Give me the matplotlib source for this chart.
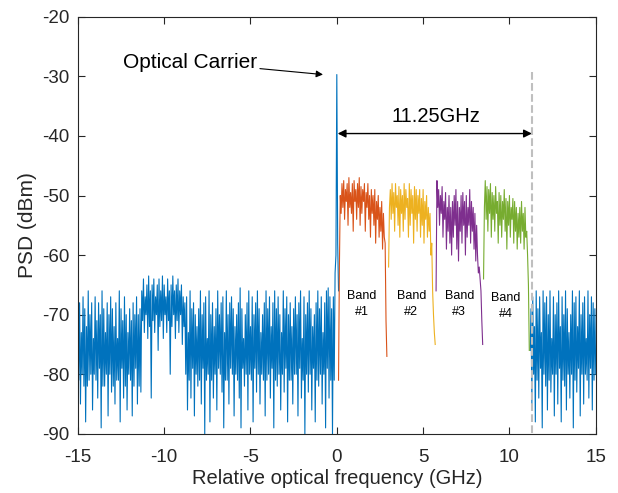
import numpy as np
import matplotlib
matplotlib.use("Agg")
import matplotlib.pyplot as plt

plt.rcParams['font.family'] = ['Liberation Sans', 'DejaVu Sans']
plt.rcParams['axes.unicode_minus'] = False

STEP = 0.05  # GHz between samples

# noise floor, -15.0 .. -11.35 GHz
noise_a_start = -15.0
noise_a = [
    -70, -81, -68, -85, -73, -80, -67, -82, -69, -88,
    -72, -82, -66, -81, -70, -80, -68, -86, -74, -80,
    -67, -81, -71, -84, -68, -79, -70, -89, -66, -82,
    -69, -82, -73, -80, -68, -87, -70, -80, -67, -83,
    -69, -82, -72, -85, -68, -81, -74, -81, -66, -88,
    -69, -79, -71, -84, -67, -82, -70, -86, -73, -80,
    -69, -81, -71, -87, -68, -82, -70, -79, -67, -85,
    -70, -82, -69, -83,
]
# raised part, -11.3 .. -8.85 GHz
noise_b_start = -11.3
noise_b = [
    -66, -71, -64, -73, -67, -70, -65, -74, -63.5, -72,
    -66, -84, -65, -71, -64, -73, -67, -70, -65, -76,
    -64, -72, -66, -71, -63.5, -74, -65, -70, -67, -73,
    -64, -71, -66, -80, -65, -72, -63.5, -70, -66, -74,
    -65, -71, -64, -73, -66, -70, -65, -75, -67, -72,
]
# -8.8 .. -0.15 GHz
noise_c_start = -8.8
noise_c = [
    -68, -80, -67, -86, -73, -81, -66, -84, -69, -79,
    -68, -87, -70, -80, -72, -82, -69, -81, -66, -85,
    -70, -79, -68, -90, -67, -81, -74, -80, -66, -88,
    -70, -81, -68, -84, -72, -80, -69, -86, -66, -79,
    -70, -80, -68, -83, -67, -89, -73, -81, -66, -81,
    -70, -85, -68, -79, -67, -80, -69, -87, -72, -80,
    -70, -81, -68, -84, -65.5, -89, -69, -79, -74, -82,
    -70, -80, -68, -86, -66, -80, -72, -81, -67, -88,
    -70, -79, -68, -83, -66, -80, -69, -85, -73, -80,
    -70, -81, -68, -87, -66, -81, -69, -80, -67, -84,
    -72, -79, -68, -89, -66, -81, -69, -82, -67, -80,
    -70, -86, -73, -80, -66, -83, -69, -79, -67, -88,
    -70, -81, -68, -81, -72, -85, -69, -80, -67, -80,
    -70, -87, -68, -79, -66, -84, -74, -81, -67, -90,
    -70, -80, -68, -83, -66, -80, -69, -86, -72, -79,
    -70, -88, -68, -81, -66, -82, -69, -80, -67, -85,
    -73, -80, -68, -89, -66, -79, -65.5, -84, -67, -81,
    -69, -90, -67, -81,
]
# optical carrier, -0.1 .. 0.1 GHz
carrier_start = -0.1
carrier = [-63, -60, -29.7, -58, -66]

# noise floor after the bands, 11.2 .. 15.0 GHz
noise_r_start = 11.2
noise_r = [
    -76, -69, -85, -67, -80, -72, -88, -66, -81, -69,
    -84, -67, -79, -73, -89, -66, -80, -68, -82, -67,
    -86, -70, -81, -66, -83, -74, -80, -67, -87, -70,
    -80, -68, -85, -66, -79, -72, -88, -67, -81, -70,
    -82, -66, -86, -69, -80, -73, -84, -70, -80, -66,
    -89, -68, -81, -67, -83, -72, -79, -66, -87, -70,
    -80, -68, -85, -67, -80, -74, -81, -66, -84, -70,
    -79, -67, -86, -68, -81, -69, -80,
]

band1_start = 0.1
band1 = [
    -81, -62, -50, -53, -48, -52, -47.5, -54, -49, -51,
    -48, -55, -47, -52, -49.5, -53, -48, -56, -47.5, -51,
    -49, -54, -48, -52, -47, -55, -48.5, -53, -49, -51,
    -48, -56, -49.5, -52, -48, -54, -50, -57, -49, -53,
    -50, -55, -49, -58, -51, -54, -50, -57, -52, -56,
    -51, -59, -53, -57, -58, -71, -77,
]
band2_start = 3.0
band2 = [
    -62, -52, -49, -54, -48, -53, -49.5, -56, -48, -52,
    -50, -55, -48.5, -57, -49, -53, -50, -56, -48, -54,
    -49, -52, -50.5, -57, -48, -55, -49, -53, -50, -58,
    -48.5, -54, -49, -56, -50, -53, -49, -57, -50.5, -55,
    -49, -58, -51, -54, -50, -57, -52, -56, -53, -60,
    -58, -66, -70, -73, -75,
]
band3_start = 5.75
band3 = [
    -66, -47.5, -52, -49, -55, -50, -53, -48.5, -57, -51,
    -54, -49.5, -59, -52, -56, -50, -58, -52, -60, -51,
    -57, -50, -55, -49, -59, -51, -61, -52, -56, -50,
    -58, -49.5, -55, -51, -60, -50, -57, -52, -55, -49,
    -58, -51, -56, -52, -59, -53, -61, -55, -60, -63,
    -62, -64, -66, -71, -75,
]
band4_start = 8.5
band4 = [
    -64, -52, -47.5, -54, -48.5, -56, -49, -53, -48, -57,
    -49.5, -54, -50, -56, -48.5, -53, -51, -58, -49.5, -55,
    -50, -57, -51, -54, -49, -56, -50.5, -59, -51, -55,
    -50, -57, -52, -54, -50.5, -58, -51, -56, -52, -59,
    -53, -57, -52, -58, -51, -56, -53, -59, -52, -57,
    -56, -60, -65, -76,
]

band_labels = ["Band\n#1", "Band\n#2", "Band\n#3", "Band\n#4"]
band_label_x = [1.46, 4.31, 7.09, 9.81]
band_label_y = [-68.2, -68.2, -68.2, -68.6]
band_colors = ["#D95319", "#EDB120", "#7E2F8E", "#77AC30"]
blue = "#0072BD"


def freq_axis(start, values):
    return start + STEP * np.arange(len(values))


def main():
    fig = plt.figure(figsize=(6.18, 4.93), dpi=100)
    ax = fig.add_axes([0.126, 0.12, 0.838, 0.846])

    left_f = np.concatenate([freq_axis(noise_a_start, noise_a),
                             freq_axis(noise_b_start, noise_b),
                             freq_axis(noise_c_start, noise_c),
                             freq_axis(carrier_start, carrier)])
    left_p = noise_a + noise_b + noise_c + carrier
    ax.plot(left_f, left_p, color=blue, lw=0.8)
    ax.plot(freq_axis(noise_r_start, noise_r), noise_r, color=blue, lw=0.8)

    bands = [(band1_start, band1), (band2_start, band2),
             (band3_start, band3), (band4_start, band4)]
    for (start, psd), c in zip(bands, band_colors):
        ax.plot(freq_axis(start, psd), psd, color=c, lw=0.8)

    ax.plot([11.3, 11.3], [-29.3, -90], '--', color=(0.75, 0.75, 0.75), lw=1.5)

    ax.annotate('', xy=(0.05, -39.6), xytext=(11.3, -39.6),
                arrowprops=dict(arrowstyle='<|-|>', color='k', lw=1,
                                mutation_scale=12, shrinkA=0, shrinkB=0))
    ax.text(5.76, -36.8, '11.25GHz', ha='center', va='center', fontsize=14.5)

    ax.annotate('Optical Carrier', xy=(-0.8, -29.7), xytext=(-8.5, -27.6),
                ha='center', va='center', fontsize=15,
                arrowprops=dict(arrowstyle='-|>', color='k', lw=0.8,
                                mutation_scale=10, shrinkA=72, shrinkB=0))

    for x, y, lab in zip(band_label_x, band_label_y, band_labels):
        ax.text(x, y, lab, ha='center', va='center', fontsize=9,
                linespacing=1.45)

    ax.set_xlim(-15, 15)
    ax.set_ylim(-90, -20)
    ax.set_xticks(np.arange(-15, 16, 5))
    ax.set_yticks(np.arange(-90, -19, 10))
    ax.tick_params(direction='in', top=True, right=True, labelsize=13.5,
                   length=5, width=0.8, colors='#262626')
    ax.tick_params(axis='x', pad=11)
    ax.tick_params(axis='y', pad=6)
    for s in ax.spines.values():
        s.set_color('#262626')
        s.set_linewidth(0.8)
    ax.set_xlabel('Relative optical frequency (GHz)', fontsize=14.5,
                  color='#262626', labelpad=2)
    ax.set_ylabel('PSD (dBm)', fontsize=15, color='#262626', labelpad=4)

    fig.savefig('out.png', dpi=100)


if __name__ == '__main__':
    main()
